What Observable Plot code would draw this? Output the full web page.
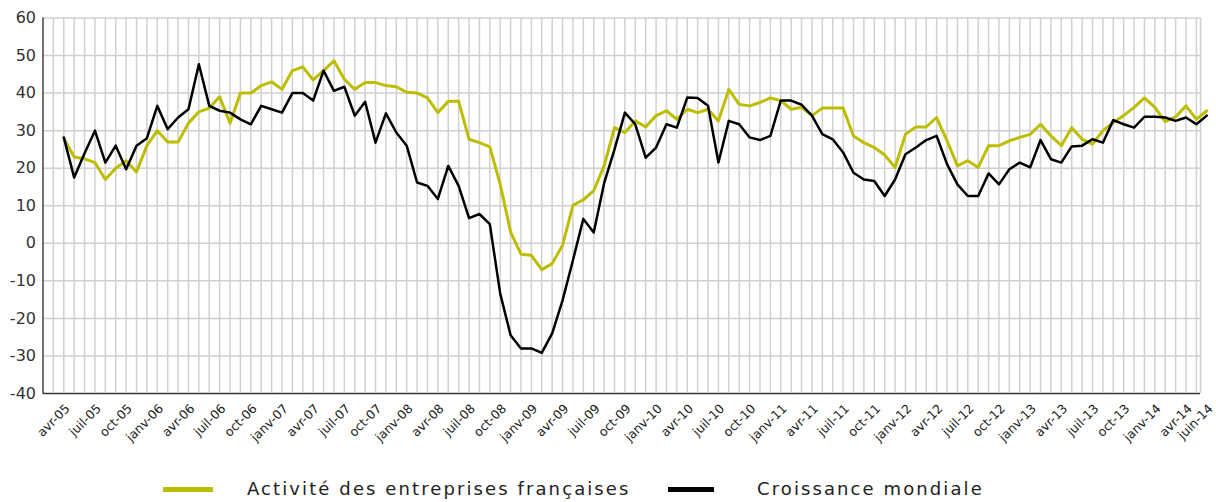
<!DOCTYPE html>
<html><head><meta charset="utf-8">
<script src="https://cdn.jsdelivr.net/npm/d3@7"></script>
<script src="https://cdn.jsdelivr.net/npm/@observablehq/plot@0.6"></script>
<style>
body{margin:0;background:#fff;font-family:"DejaVu Sans",sans-serif;}
#wrap{position:relative;width:1216px;height:502px;overflow:hidden;}
#legend{position:absolute;left:0;top:470px;width:1216px;height:32px;}
.sw{position:absolute;height:5px;top:17px;}
.lt{position:absolute;top:10px;font-size:18px;letter-spacing:2.1px;color:#222;line-height:18px;white-space:nowrap;}
</style></head><body><div id="wrap"><div id="chart"></div><div id="legend"></div></div>
<script>
const seriesNames = ["Activité des entreprises françaises", "Croissance mondiale"];
const seriesColors = ["#bdbd00", "#000000"];
const yTicks = [-40, -30, -20, -10, 0, 10, 20, 30, 40, 50, 60];
const tickLabels = ["avr-05","juil-05","oct-05","janv-06","avr-06","juil-06","oct-06","janv-07","avr-07","juil-07","oct-07","janv-08","avr-08","juil-08","oct-08","janv-09","avr-09","juil-09","oct-09","janv-10","avr-10","juil-10","oct-10","janv-11","avr-11","juil-11","oct-11","janv-12","avr-12","juil-12","oct-12","janv-13","avr-13","juil-13","oct-13","janv-14","avr-14","juin-14"];
const tickPos = [0,3,6,9,12,15,18,21,24,27,30,33,36,39,42,45,48,51,54,57,60,63,66,69,72,75,78,81,84,87,90,93,96,99,102,105,108,110];
const activite = [28,23,22.5,21.5,17,20,22,19,26,30,27,27,32,35,36,39,32,40,40,42,43,41,46,47,43.5,46,48.6,43.7,41,42.8,42.8,42,41.7,40.2,40,38.7,34.8,37.8,37.8,27.7,26.8,25.7,15.7,3,-2.9,-3.2,-7,-5.4,-0.5,10.1,11.6,14,20.6,30.8,29.5,32.6,31,34,35.3,33,35.7,34.8,35.7,32.6,41,37,36.6,37.5,38.7,38,35.7,36.2,34,36,36,36,28.6,26.8,25.5,23.5,20.2,29,31,31,33.5,27.3,20.6,22,20.2,26,26,27.3,28.2,29,31.7,28.6,26,30.8,27.7,26.4,30,32.2,34,36.2,38.7,36.2,32.4,33.7,36.6,33,35.3];
const croissance = [28.2,17.5,24,30,21.5,26,19.7,26,28,36.6,30.4,33.5,35.7,47.7,36.6,35.3,34.8,33,31.7,36.6,35.7,34.8,40,40,38,46,40.6,41.7,34,37.7,26.8,34.6,29.5,26,16.2,15.3,11.8,20.6,15.3,6.7,7.8,5.1,-13.4,-24.5,-28,-28,-29.2,-24,-15.2,-4.5,6.5,2.9,16,25,34.8,31.7,22.8,25.5,31.7,30.8,38.8,38.7,36.6,21.5,32.6,31.7,28.2,27.5,28.6,38,38,36.9,34,29.1,27.7,24.2,18.8,17,16.6,12.6,17,23.7,25.5,27.5,28.6,21.1,15.7,12.6,12.6,18.6,15.7,19.7,21.5,20.2,27.5,22.4,21.5,25.8,26,27.7,26.8,32.8,31.7,30.8,33.7,33.7,33.5,32.6,33.5,31.7,34];

const rows = activite.map((a, i) => ({i, a, c: croissance[i]}));
const ticks = tickLabels.map((label, k) => ({label, pos: tickPos[k]}));
const gridX = d3.range(-1, 110);
const xLeft = -2, xRight = 109.4;

const chart = Plot.plot({
  width: 1216, height: 470,
  marginLeft: 42.5, marginRight: 9.7, marginTop: 17.5, marginBottom: 77,
  x: {domain: [-2, 110], axis: null},
  y: {domain: [-40, 60], axis: null},
  style: {fontFamily: "DejaVu Sans", background: "#fff", overflow: "visible"},
  marks: [
    Plot.ruleY(yTicks.filter(d => d > -40), {x1: xLeft, x2: xRight, stroke: "#d0d0d0", strokeWidth: 1.5}),
    Plot.ruleY([-40], {x1: xLeft, x2: xRight, stroke: "#333", strokeWidth: 1.5}),
    Plot.ruleX(gridX, {y1: -40, y2: 60, stroke: "#d0d0d0", strokeWidth: 1.5}),
    Plot.ruleX([xRight], {y1: -40, y2: 60, stroke: "#d0d0d0", strokeWidth: 1.5}),
    Plot.ruleX([xLeft], {y1: -40, y2: 60, stroke: "#444", strokeWidth: 1.5}),
    Plot.line(rows, {x: "i", y: "a", stroke: seriesColors[0], strokeWidth: 3, clip: false}),
    Plot.line(rows, {x: "i", y: "c", stroke: seriesColors[1], strokeWidth: 2.5, clip: false}),
    Plot.text(yTicks, {x: xLeft, y: d => d, text: d => String(d), textAnchor: "end", dx: -7, fontSize: 16, fill: "#333"}),
    Plot.text(ticks, {x: "pos", y: -40, text: "label", rotate: -45, textAnchor: "end", dx: 4, dy: 13, fontSize: 12.5, fill: "#222", letterSpacing: "0.5px"})
  ]
});
document.getElementById("chart").appendChild(chart);

const legend = document.getElementById("legend");
const legendPos = [{sw: 163, w: 50, tx: 247}, {sw: 668, w: 46, tx: 757}];
seriesNames.forEach((name, k) => {
  const s = document.createElement("div");
  s.className = "sw";
  s.style.left = legendPos[k].sw + "px";
  s.style.width = legendPos[k].w + "px";
  s.style.background = seriesColors[k];
  legend.appendChild(s);
  const t = document.createElement("div");
  t.className = "lt";
  t.style.left = legendPos[k].tx + "px";
  t.textContent = name;
  legend.appendChild(t);
});
</script></body></html>
